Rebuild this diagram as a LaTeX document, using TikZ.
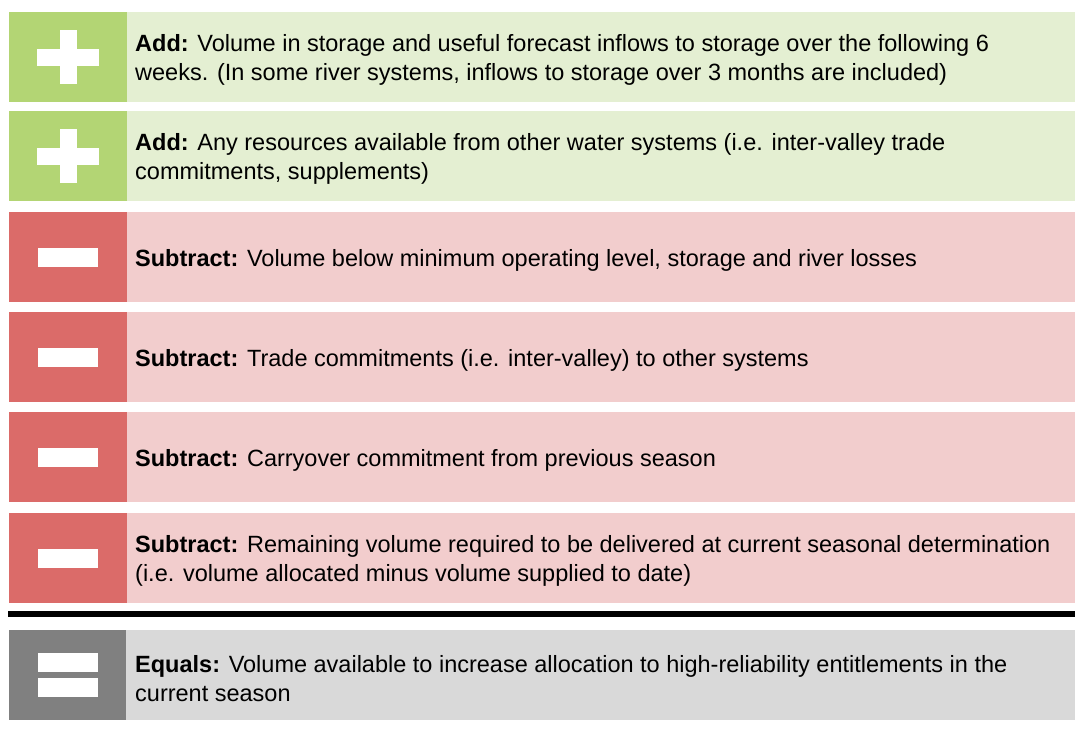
\documentclass[tikz,border=0pt]{standalone}
\usepackage{fontspec}
\setmainfont{Liberation Sans}
\usetikzlibrary{positioning}
\definecolor{AddDark}{HTML}{B3D574}
\definecolor{AddLight}{HTML}{E4EFD2}
\definecolor{SubDark}{HTML}{DB6B69}
\definecolor{SubLight}{HTML}{F2CDCD}
\definecolor{EqDark}{HTML}{808080}
\definecolor{EqLight}{HTML}{D9D9D9}

\begin{document}
\begin{tikzpicture}[x=1pt,y=-1pt,
  icon/.style={minimum width=118pt,minimum height=90pt,inner sep=0pt,anchor=north west},
  band/.style={minimum width=948pt,minimum height=90pt,inner sep=0pt,anchor=north west},
  label/.style={align=left,inner sep=0pt,anchor=west,yshift=-3pt,font=\fontsize{23.5}{29}\selectfont}]
  \useasboundingbox (0,0) rectangle (1075,729);
  % add rows
  \node[icon,fill=AddDark] (icon1) at (9,12) {};
  \node[band,fill=AddLight] (band1) at (127,12) {};
  \node[icon,fill=AddDark] (icon2) at (9,111) {};
  \node[band,fill=AddLight] (band2) at (127,111) {};
  % subtract rows
  \foreach \n/\y in {3/212,4/312,5/412,6/513} {
    \node[icon,fill=SubDark] (icon\n) at (9,\y) {};
    \node[band,fill=SubLight] (band\n) at (127,\y) {};
  }
  % equals row
  \node[icon,fill=EqDark,minimum width=117pt] (icon7) at (9,630) {};
  \node[band,fill=EqLight,minimum width=949pt] (band7) at (126,630) {};
  % signs
  \foreach \n in {1,2} {
    \fill[white] ([shift={(-31,-8.5)}]icon\n.center) rectangle ([shift={(31,8.5)}]icon\n.center);
    \fill[white] ([shift={(-8.5,-27)}]icon\n.center) rectangle ([shift={(8.5,27)}]icon\n.center);
  }
  \foreach \n in {3,4,5,6} {
    \fill[white] ([shift={(-30,-9.5)}]icon\n.center) rectangle ([shift={(30,9.5)}]icon\n.center);
  }
  \fill[white] ([shift={(-30,-22)}]icon7.center) rectangle ([shift={(30,-3)}]icon7.center);
  \fill[white] ([shift={(-30,3)}]icon7.center) rectangle ([shift={(30,22)}]icon7.center);
  % separator
  \coordinate (sepL) at (8,614);
  \coordinate (sepR) at (1075,614);
  \draw[line width=6pt] (sepL) -- (sepR);
  % texts
  \node[label,right=8pt of band1.west] (lab1) {\textbf{Add:} Volume in storage and useful forecast inflows to storage over the following 6\\weeks. (In some river systems, inflows to storage over 3 months are included)};
  \node[label,right=8pt of band2.west] (lab2) {\textbf{Add:} Any resources available from other water systems (i.e. inter-valley trade\\commitments, supplements)};
  \node[label,right=8pt of band3.west] (lab3) {\textbf{Subtract:} Volume below minimum operating level, storage and river losses};
  \node[label,right=8pt of band4.west] (lab4) {\textbf{Subtract:} Trade commitments (i.e. inter-valley) to other systems};
  \node[label,right=8pt of band5.west] (lab5) {\textbf{Subtract:} Carryover commitment from previous season};
  \node[label,right=8pt of band6.west] (lab6) {\textbf{Subtract:} Remaining volume required to be delivered at current seasonal determination\\(i.e. volume allocated minus volume supplied to date)};
  \node[label,right=9pt of band7.west] (lab7) {\textbf{Equals:} Volume available to increase allocation to high-reliability entitlements in the\\current season};
\end{tikzpicture}
\end{document}
